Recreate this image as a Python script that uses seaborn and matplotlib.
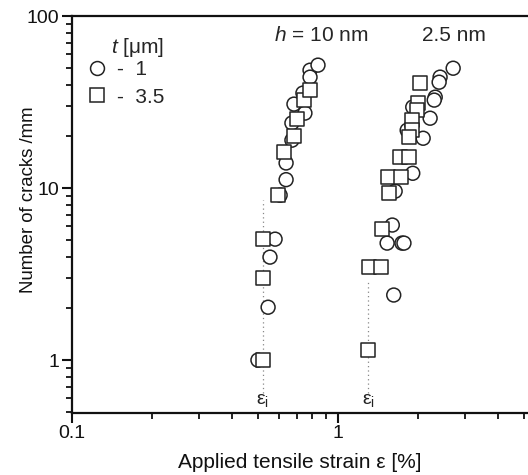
import numpy as np
import pandas as pd
import matplotlib
matplotlib.use("Agg")
import matplotlib.pyplot as plt
import seaborn as sns
from matplotlib.lines import Line2D
from matplotlib.ticker import LogLocator, NullFormatter

# ---- data: h = 10 nm ----
h10_t1_strain = [0.50, 0.546, 0.555, 0.58, 0.606, 0.638, 0.638, 0.671, 0.671, 0.683, 0.738, 0.751, 0.785, 0.785, 0.841]
h10_t1_cracks = [1.0, 2.03, 3.97, 5.05, 9.1, 11.2, 14.0, 19.0, 23.9, 30.8, 35.7, 27.3, 48.5, 44.2, 51.9]
h10_t35_strain = [0.522, 0.522, 0.522, 0.595, 0.627, 0.683, 0.701, 0.745, 0.785]
h10_t35_cracks = [1.0, 3.0, 5.05, 9.1, 16.2, 20.1, 25.2, 32.5, 37.1]

# ---- data: h = 2.5 nm ----
h25_t1_strain = [2.71, 2.42, 2.40, 2.32, 2.30, 1.91, 2.22, 1.82, 2.09, 1.91, 1.64, 1.60, 1.53, 1.74, 1.77, 1.62]
h25_t1_cracks = [49.8, 44.2, 41.3, 33.8, 32.5, 29.6, 25.5, 21.7, 19.5, 12.2, 9.6, 6.1, 4.79, 4.79, 4.79, 2.39]
h25_t35_strain = [2.03, 2.0, 1.98, 1.90, 1.90, 1.85, 1.71, 1.85, 1.54, 1.73, 1.56, 1.46, 1.31, 1.45, 1.30]
h25_t35_cracks = [40.8, 31.2, 28.4, 24.9, 21.7, 19.8, 15.1, 15.1, 11.6, 11.6, 9.35, 5.78, 3.48, 3.48, 1.14]

# onset strains (epsilon_i)
eps_i = [0.522, 1.30]
eps_i_top = [8.5, 2.9]

t_labels = ["1", "3.5"]

rows = []
for s, c in zip(h10_t1_strain + h25_t1_strain, h10_t1_cracks + h25_t1_cracks):
    rows.append((s, c, "1"))
for s, c in zip(h10_t35_strain + h25_t35_strain, h10_t35_cracks + h25_t35_cracks):
    rows.append((s, c, "3.5"))
df = pd.DataFrame(rows, columns=["strain", "cracks", "t"])

sns.set_theme(style="ticks")
plt.rcParams["font.family"] = ["Liberation Sans", "DejaVu Sans"]
plt.rcParams["mathtext.fontset"] = "custom"
plt.rcParams["mathtext.it"] = "Liberation Sans:italic"
plt.rcParams["mathtext.rm"] = "Liberation Sans"

fig = plt.figure(figsize=(5.28, 4.75), dpi=100)
ax = fig.add_axes([0.1364, 0.131, 0.8636, 0.835])

ax.set_xscale("log")
ax.set_yscale("log")

sns.scatterplot(data=df, x="strain", y="cracks", style="t",
                markers={"1": "o", "3.5": "s"}, s=100, color="black",
                linewidth=1.1, ax=ax, legend=False, zorder=3)
for coll in ax.collections:
    coll.set_facecolor("white")
    coll.set_edgecolor("#222222")

# dotted onset lines + labels
for xe, yt in zip(eps_i, eps_i_top):
    ax.plot([xe, xe], [0.64, yt], linestyle=(0, (1, 2.5)), color="#888888", lw=0.9, zorder=1)
    ax.text(xe, 0.585, "ε$_\\mathrm{i}$", ha="center", va="center", fontsize=14, color="#222222")

ax.set_xlim(0.1, 5.18)
ax.set_ylim(0.494, 100)

ax.set_xticks([0.1, 1])
ax.set_xticklabels(["0.1", "1"])
ax.set_yticks([1, 10, 100])
ax.set_yticklabels(["1", "10", "100"])
ax.xaxis.set_minor_locator(LogLocator(base=10, subs=np.arange(2, 10)))
ax.yaxis.set_minor_locator(LogLocator(base=10, subs=np.arange(2, 10)))
ax.xaxis.set_minor_formatter(NullFormatter())
ax.yaxis.set_minor_formatter(NullFormatter())
ax.tick_params(which="major", direction="out", length=7, width=1.5, labelsize=14, colors="#111111", pad=2)
ax.tick_params(which="minor", direction="out", length=4.5, width=1.3, colors="#111111")

for side in ["left", "bottom", "top"]:
    ax.spines[side].set_linewidth(1.6)
    ax.spines[side].set_color("#111111")
ax.spines["right"].set_visible(False)

ax.set_xlabel("Applied tensile strain ε [%]", fontsize=15, color="#111111", labelpad=8)
ax.set_ylabel("Number of cracks /mm", fontsize=13.4, color="#111111")
ax.yaxis.set_label_coords(-0.077, 0.537)

ax.text(0.546, 0.952, r"$h$ = 10 nm", transform=ax.transAxes, ha="center", va="center", fontsize=15)
ax.text(0.838, 0.952, "2.5 nm", transform=ax.transAxes, ha="center", va="center", fontsize=15)

# legend title placed where the reference shows it
ax.text(0.085, 0.922, r"$t$ [μm]", transform=ax.transAxes, ha="left", va="center", fontsize=15)

handles = [Line2D([], [], marker=m, linestyle="none", markersize=10, markerfacecolor="white",
                  markeredgecolor="#222222", markeredgewidth=1.1) for m in ["o", "s"]]
leg = ax.legend(handles, ["-  " + t for t in t_labels], loc="upper left",
                frameon=False, fontsize=15, handlelength=1.0, handletextpad=0.45,
                borderaxespad=0, borderpad=0, labelspacing=0.4,
                bbox_to_anchor=(0.032, 0.889))

fig.savefig("out.png", dpi=100)
